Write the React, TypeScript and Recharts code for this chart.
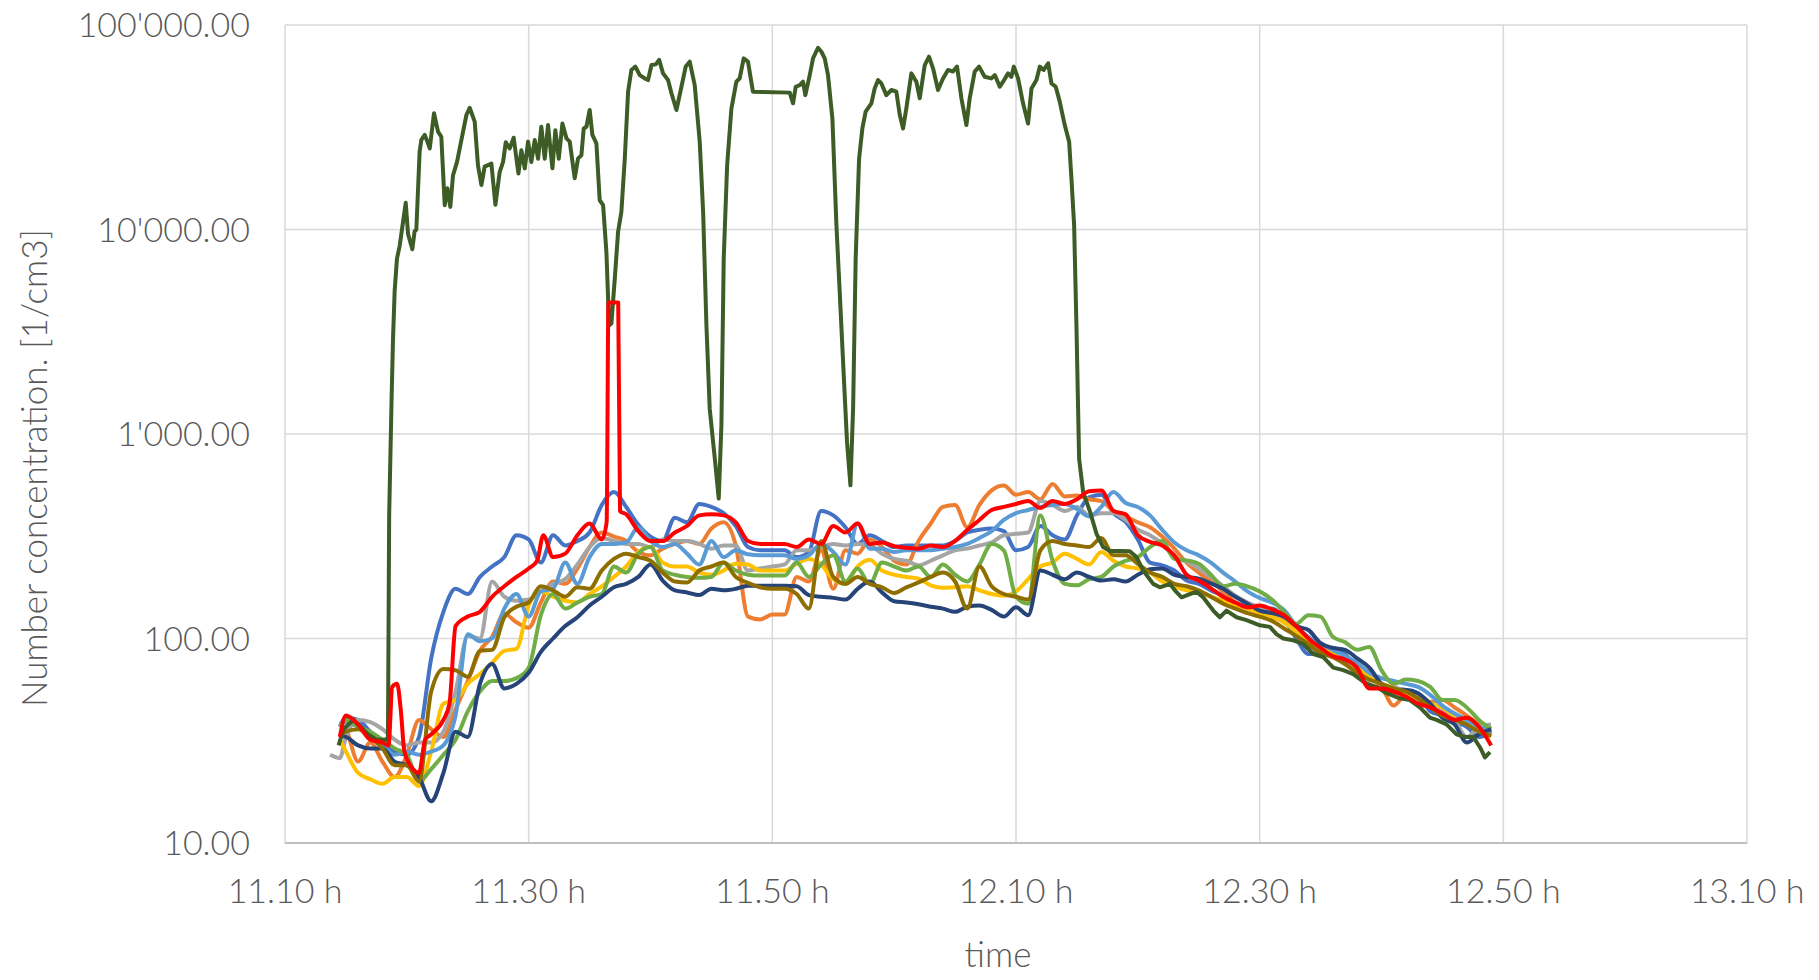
import React from 'react';
import { LineChart, Line, XAxis, YAxis, CartesianGrid } from 'recharts';

// minutes after 11:10
const TIMES = [3.7, 4.5, 5, 6, 7, 8, 9, 10, 11, 12,
  13, 14, 15, 16, 17, 18, 19, 20, 21, 22,
  23, 24, 25, 26, 27, 28, 29, 30, 31, 32,
  33, 34, 35, 36, 37, 38, 39, 40, 41, 42,
  43, 44, 45, 46, 47, 48, 49, 50, 51, 52,
  53, 54, 55, 56, 57, 58, 59, 60, 61, 62,
  63, 64, 65, 66, 67, 68, 69, 70, 71, 72,
  73, 74, 75, 76, 77, 78, 79, 80, 81, 82,
  83, 84, 85, 86, 87, 88, 89, 90, 91, 92,
  93, 94, 95, 96, 97, 98, 99];

const BLUE = [null, 37, 41, 40, 35, 31, 28, 27, 33, 80,
  135, 175, 165, 200, 225, 250, 320, 305, 235, 320,
  285, 300, 330, 450, 520, 440, 360, 315, 300, 390,
  370, 455, 440, 410, 355, 280, 270, 270, 270, 250,
  265, 420, 400, 350, 290, 320, 300, 280, 285, 285,
  285, 285, 300, 330, 340, 345, 335, 270, 280, 355,
  320, 305, 400, 490, 505, 410, 372, 305, 235, 228,
  215, 192, 185, 172, 162, 150, 143, 135, 140, 125,
  100, 84, 86, 90, 84, 72, 66, 60, 57, 56,
  54, 44, 42, 39, 37, 33, 35];

const ORANGE = [null, 38, 36, 25, 31, 25, 21, 27, 40, 36,
  33, 45, 62, 87, 102, 132, 120, 113, 150, 190,
  185, 220, 280, 330, 315, 300, 265, 255, 275, 290,
  300, 290, 345, 370, 285, 128, 124, 131, 131, 200,
  190, 270, 175, 270, 260, 305, 280, 240, 230, 300,
  365, 440, 450, 350, 450, 530, 560, 505, 520, 480,
  570, 495, 500, 480, 470, 420, 395, 370, 350, 315,
  275, 235, 210, 190, 170, 150, 140, 135, 130, 122,
  110, 100, 92, 85, 82, 75, 66, 58, 47, 53,
  50, 49, 50, 46, 42, 38, 34];

const GRAY = [27, 26, 33, 40, 39, 36, 32, 30, 31, 31,
  35, 55, 103, 100, 190, 160, 153, 155, 170, 185,
  195, 230, 280, 310, 300, 290, 290, 280, 305, 300,
  300, 290, 275, 285, 285, 215, 220, 225, 230, 270,
  270, 280, 290, 285, 290, 285, 260, 245, 240, 228,
  240, 255, 270, 275, 285, 295, 320, 325, 330, 470,
  450, 420, 440, 400, 410, 410, 380, 340, 320, 290,
  250, 238, 220, 200, 180, 162, 150, 142, 132, 120,
  108, 93, 86, 82, 76, 70, 60, 57, 58, 54,
  50, 48, 45, 40, 33, 37, 38];

const YELLOW = [null, 32, 28, 22, 20.5, 19.5, 21, 21, 19, 28,
  48, 50, 60, 67, 76, 87, 89, 145, 170, 160,
  153, 150, 165, 180, 200, 225, 265, 280, 235, 225,
  225, 210, 205, 215, 232, 230, 215, 215, 215, 232,
  245, 230, 195, 185, 225, 243, 215, 205, 200, 196,
  182, 177, 178, 180, 172, 165, 162, 170, 195, 225,
  235, 260, 245, 230, 265, 240, 225, 220, 210, 190,
  180, 172, 168, 160, 153, 145, 140, 133, 128, 120,
  108, 98, 90, 84, 80, 72, 66, 60, 57, 54,
  51, 48, 46, 42, 40, 37, 33];

const LIGHTBLUE = [null, 38, 39, 37, 33, 30, 27, 28, 27, 28,
  30, 42, 105, 97, 100, 140, 165, 128, 170, 175,
  235, 185, 250, 290, 290, 295, 350, 300, 280, 290,
  260, 230, 300, 250, 270, 258, 255, 255, 255, 245,
  255, 290, 265, 230, 365, 275, 275, 265, 270, 270,
  270, 275, 280, 290, 310, 335, 380, 410, 425, 440,
  450, 455, 430, 395, 440, 520, 460, 440, 400, 340,
  295, 270, 255, 235, 210, 190, 170, 158, 150, 138,
  115, 102, 94, 88, 82, 76, 68, 64, 62, 60,
  58, 53, 47, 43, 40, 37, 35];

const GREEN = [null, 37, 40, 37, 35, 32, 29, 27, 20, 23,
  27, 32, 44, 55, 62, 62, 64, 72, 130, 165,
  140, 150, 160, 165, 225, 210, 260, 280, 215, 205,
  200, 198, 200, 235, 215, 205, 203, 203, 203, 235,
  200, 230, 255, 190, 220, 185, 235, 225, 215, 225,
  200, 230, 205, 190, 230, 290, 270, 160, 148, 400,
  240, 185, 182, 195, 200, 225, 240, 250, 280, 300,
  245, 241, 232, 205, 180, 185, 180, 170, 155, 135,
  118, 130, 128, 102, 96, 88, 91, 70, 60, 63,
  62, 58, 50, 50, 46, 40, 36];

const NAVY = [null, 33.5, 33, 30, 29, 29, 25, 24, 21, 16,
  22, 35, 33, 60, 75, 57, 60, 68, 86, 100,
  115, 127, 145, 160, 178, 185, 200, 230, 192, 172,
  168, 163, 175, 172, 175, 181, 181, 181, 181, 180,
  163, 160, 158, 155, 175, 190, 168, 152, 150, 147,
  143, 140, 135, 143, 145, 138, 128, 142, 130, 215,
  205, 195, 210, 200, 192, 195, 190, 205, 218, 220,
  205, 200, 196, 186, 175, 160, 148, 137, 133, 128,
  115, 110, 95, 90, 88, 80, 72, 60, 55, 56,
  54, 48, 41, 38, 31, 34, 36];

const OLIVE = [null, 33, 35, 36, 33, 29, 24, 24, 20, 55,
  71, 70, 65, 87, 88, 127, 143, 150, 180, 172,
  160, 178, 175, 215, 245, 260, 250, 240, 210, 190,
  188, 215, 225, 235, 200, 187, 178, 175, 175, 165,
  140, 300, 200, 185, 200, 185, 178, 167, 178, 188,
  200, 210, 190, 140, 225, 180, 165, 160, 155, 270,
  300, 290, 285, 280, 310, 255, 255, 232, 210, 200,
  185, 180, 172, 160, 148, 140, 133, 128, 122, 112,
  103, 94, 85, 81, 75, 68, 63, 60, 57, 55,
  51, 46, 42, 40, 38, 35, 33.5];

const RED_TIMES = [4.5, 5, 6, 7, 8, 8.5, 8.8, 9.2, 9.5, 9.8, 10.5, 11, 11.5, 12, 13, 13.5, 14, 15, 16, 17,
  18, 19, 20, 20.7, 21.2, 22, 23, 24, 25, 26, 26.4, 26.55, 27.35, 27.5, 28, 29, 30, 31, 32, 33,
  34, 35, 36, 37, 38, 39, 40, 41, 42, 43, 44, 45, 46, 47, 48, 49, 50, 51, 52, 53,
  54, 55, 56, 57, 58, 59, 60, 61, 62, 63, 64, 65, 66, 67, 68, 69, 70, 71, 72, 73,
  74, 75, 76, 77, 78, 79, 80, 81, 82, 83, 84, 85, 86, 87, 88, 89, 90, 91, 92, 93,
  94, 95, 96, 97, 98, 99];
const RED = [33, 42, 38, 32, 31, 30, 58, 60, 45, 28, 23, 22, 32, 34, 40, 48, 115, 128, 135, 160,
  180, 200, 220, 240, 320, 250, 260, 320, 365, 305, 370, 4400, 4400, 420, 405, 335, 300, 300, 330, 355,
  400, 405, 400, 370, 300, 290, 290, 290, 280, 305, 290, 355, 330, 365, 290, 295, 283, 278, 275, 285,
  280, 300, 340, 380, 425, 440, 455, 470, 435, 470, 455, 480, 525, 530, 420, 405, 320, 297, 285, 255,
  205, 192, 176, 160, 150, 142, 145, 139, 130, 115, 100, 90, 82, 79, 72, 57, 57, 55, 52, 48,
  46, 43, 40, 41, 37, 30];

const DG_TIMES = [4.4, 4.8, 5.6, 6.2, 6.8, 7.5, 8.3, 8.45, 8.55, 8.75, 8.87, 9.0, 9.19, 9.41, 9.69, 9.91,
  10.1, 10.45, 10.64, 10.78, 11.05, 11.19, 11.47, 11.74, 11.88, 12.23, 12.56, 12.83, 13.11, 13.33, 13.57, 13.79,
  14.12, 14.48, 14.89, 15.16, 15.57, 15.84, 16.12, 16.39, 16.94, 17.27, 17.62, 17.9, 18.12, 18.44, 18.77, 19.16,
  19.4, 19.68, 19.95, 20.22, 20.5, 20.77, 21.04, 21.32, 21.59, 21.95, 22.19, 22.47, 22.77, 23.1, 23.37, 23.78,
  24.05, 24.33, 24.52, 24.74, 25.01, 25.23, 25.56, 25.83, 26.11, 26.38, 26.6, 26.79, 27.07, 27.34, 27.61, 27.89,
  28.16, 28.43, 28.76, 29.12, 29.53, 29.8, 30.08, 30.43, 30.71, 31.03, 31.44, 31.72, 32.13, 32.54, 32.89, 33.22,
  33.63, 34.04, 34.32, 34.59, 34.86, 35.28, 35.6, 35.82, 36.01, 36.29, 36.64, 37.05, 37.32, 37.65, 38.0, 38.41,
  41.43, 41.7, 41.92, 42.25, 42.52, 42.71, 43.07, 43.34, 43.75, 44.03, 44.3, 44.57, 44.93, 45.26, 45.53, 45.86,
  46.13, 46.41, 46.63, 46.84, 47.12, 47.39, 47.66, 48.13, 48.4, 48.68, 48.95, 49.36, 49.77, 50.18, 50.46, 50.73,
  51.0, 51.41, 51.82, 52.1, 52.51, 52.86, 53.19, 53.6, 54.01, 54.42, 54.83, 55.16, 55.52, 55.93, 56.2, 56.61,
  56.97, 57.43, 57.98, 58.26, 58.67, 58.94, 59.35, 59.62, 59.82, 60.17, 60.58, 60.99, 61.27, 61.68, 61.95, 62.28,
  62.64, 62.91, 63.26, 63.59, 64.0, 64.36, 64.55, 64.77, 64.96, 65.18, 65.51, 66.06, 66.61, 67.15, 67.7, 68.52,
  69.34, 69.89, 70.44, 71.26, 71.81, 72.63, 73.04, 73.59, 74.27, 74.82, 75.36, 76.19, 76.73, 77.28, 78.1, 78.92,
  80.02, 80.84, 81.38, 81.93, 82.75, 83.57, 84.4, 85.22, 86.04, 86.86, 87.68, 88.77, 89.59, 90.42, 91.51, 92.33,
  93.15, 93.97, 94.52, 95.34, 96.16, 96.85, 97.53, 98.08, 98.49, 98.9];
const DARKGREEN = [30, 36, 40, 37, 34, 32, 32, 33, 400, 1500, 2960, 5000, 7200, 8300, 10900, 13500,
  9500, 8000, 9800, 10000, 24000, 27400, 29000, 26400, 24900, 37000, 30100, 28400, 13150, 15900, 12900, 18400,
  21400, 27400, 36300, 39400, 33700, 20600, 16500, 20300, 21000, 13200, 19100, 21400, 26700, 24900, 28100, 18800,
  24400, 19900, 26900, 21400, 27400, 22200, 31800, 22200, 32400, 19900, 30600, 22200, 33000, 27900, 26900, 17800,
  22200, 23100, 31200, 31800, 38400, 29000, 26400, 13900, 13150, 7780, 3400, 3470, 5760, 9750, 12200, 22200,
  47200, 60300, 62600, 56900, 54800, 53800, 63700, 64200, 67500, 58000, 53800, 46400, 38400, 49900, 62600, 66200,
  50800, 26900, 12200, 3400, 1330, 757, 483, 1100, 7220, 20600, 39000, 52800, 54800, 68700, 66200, 47200,
  46700, 41400, 49900, 50800, 52800, 45400, 56900, 68700, 77400, 74000, 68700, 56900, 34900, 10500, 4950, 1940,
  915, 561, 1330, 7220, 22200, 31200, 37700, 41400, 48900, 53800, 51800, 45400, 48100, 47200, 36300, 31200,
  39100, 58000, 52800, 43800, 63700, 70000, 61400, 48100, 54800, 60300, 59200, 62600, 43800, 32400, 43800, 59200,
  62600, 55800, 54800, 56900, 49900, 52800, 58000, 55800, 62600, 54800, 41400, 33000, 48900, 53800, 62600, 60300,
  65000, 51800, 49900, 42200, 32400, 26900, 17800, 10500, 3400, 757, 520, 420, 325, 280, 268, 268,
  267, 250, 215, 185, 178, 185, 172, 159, 165, 169, 159, 137, 127, 137, 127, 123,
  116, 114, 105, 100, 98, 94, 84, 81, 72, 70, 67, 60, 58, 54, 51, 50,
  46, 41, 40, 38, 34, 33, 33, 29.4, 26.2, 27.8];

const X_TICKS = [0, 20, 40, 60, 80, 100, 120];
const X_TICK_LABELS = ['11.10 h', '11.30 h', '11.50 h', '12.10 h', '12.30 h', '12.50 h', '13.10 h'];
const Y_TICKS = [10, 100, 1000, 10000, 100000];
const Y_TICK_LABELS = ['10.00', '100.00', "1'000.00", "10'000.00", "100'000.00"];

const mk = (times: number[], values: (number | null)[]) =>
  times.map((t, i) => ({ t, v: values[i] })).filter((d) => d.v !== null && d.v !== undefined);

const SERIES = [
  { name: 'blue', color: '#4472C4', data: mk(TIMES, BLUE) },
  { name: 'orange', color: '#ED7D31', data: mk(TIMES, ORANGE) },
  { name: 'gray', color: '#A5A5A5', data: mk(TIMES, GRAY) },
  { name: 'yellow', color: '#FFC000', data: mk(TIMES, YELLOW) },
  { name: 'lightblue', color: '#5B9BD5', data: mk(TIMES, LIGHTBLUE) },
  { name: 'green', color: '#70AD47', data: mk(TIMES, GREEN) },
  { name: 'navy', color: '#264478', data: mk(TIMES, NAVY) },
  { name: 'olive', color: '#8F6E00', data: mk(TIMES, OLIVE) },
  { name: 'darkgreen', color: '#3D5C26', data: mk(DG_TIMES, DARKGREEN), linear: true },
  { name: 'red', color: '#FF0000', data: mk(RED_TIMES, RED) },
];

const FONT = 'Lato, "Open Sans", sans-serif';
const tickStyle = { fontFamily: FONT, fontWeight: 300, fontSize: 34, fill: '#595959' };
const titleStyle = { fontFamily: FONT, fontWeight: 300, fontSize: 35, fill: '#595959' };

export default function App() {
  return (
    <div style={{ position: 'absolute', left: 0, top: 0, width: 1819, height: 980, background: '#fff' }}>
      <LineChart width={1819} height={980} margin={{ top: 25, right: 72, bottom: 0, left: 0 }}>
        <CartesianGrid stroke="#D9D9D9" strokeWidth={1.5} />
        <XAxis
          type="number"
          dataKey="t"
          domain={[0, 120]}
          ticks={X_TICKS}
          allowDataOverflow
          height={137}
          tickSize={0}
          tickMargin={36}
          tickFormatter={(v: number) => X_TICK_LABELS[X_TICKS.indexOf(v)]}
          tick={tickStyle}
          axisLine={{ stroke: '#BFBFBF', strokeWidth: 2 }}
          tickLine={false}
        />
        <YAxis
          type="number"
          scale="log"
          domain={[10, 100000]}
          ticks={Y_TICKS}
          allowDataOverflow
          width={285}
          tickSize={0}
          tickMargin={35}
          tickFormatter={(v: number) => Y_TICK_LABELS[Y_TICKS.indexOf(v)]}
          tick={tickStyle}
          axisLine={false}
          tickLine={false}
        />
        {SERIES.map((s) => (
          <Line
            key={s.name}
            data={s.data}
            dataKey="v"
            type={s.linear ? 'linear' : 'monotone'}
            stroke={s.color}
            strokeWidth={4}
            strokeLinejoin="round"
            dot={false}
            activeDot={false}
            isAnimationActive={false}
            connectNulls
          />
        ))}
      </LineChart>
      <svg width={1819} height={980} style={{ position: 'absolute', left: 0, top: 0, pointerEvents: 'none' }}>
        <text x={998} y={967} textAnchor="middle" style={titleStyle}>time</text>
        <text transform="translate(47,468) rotate(-90)" textAnchor="middle" style={titleStyle}>
          Number concentration. [1/cm3]
        </text>
      </svg>
    </div>
  );
}
